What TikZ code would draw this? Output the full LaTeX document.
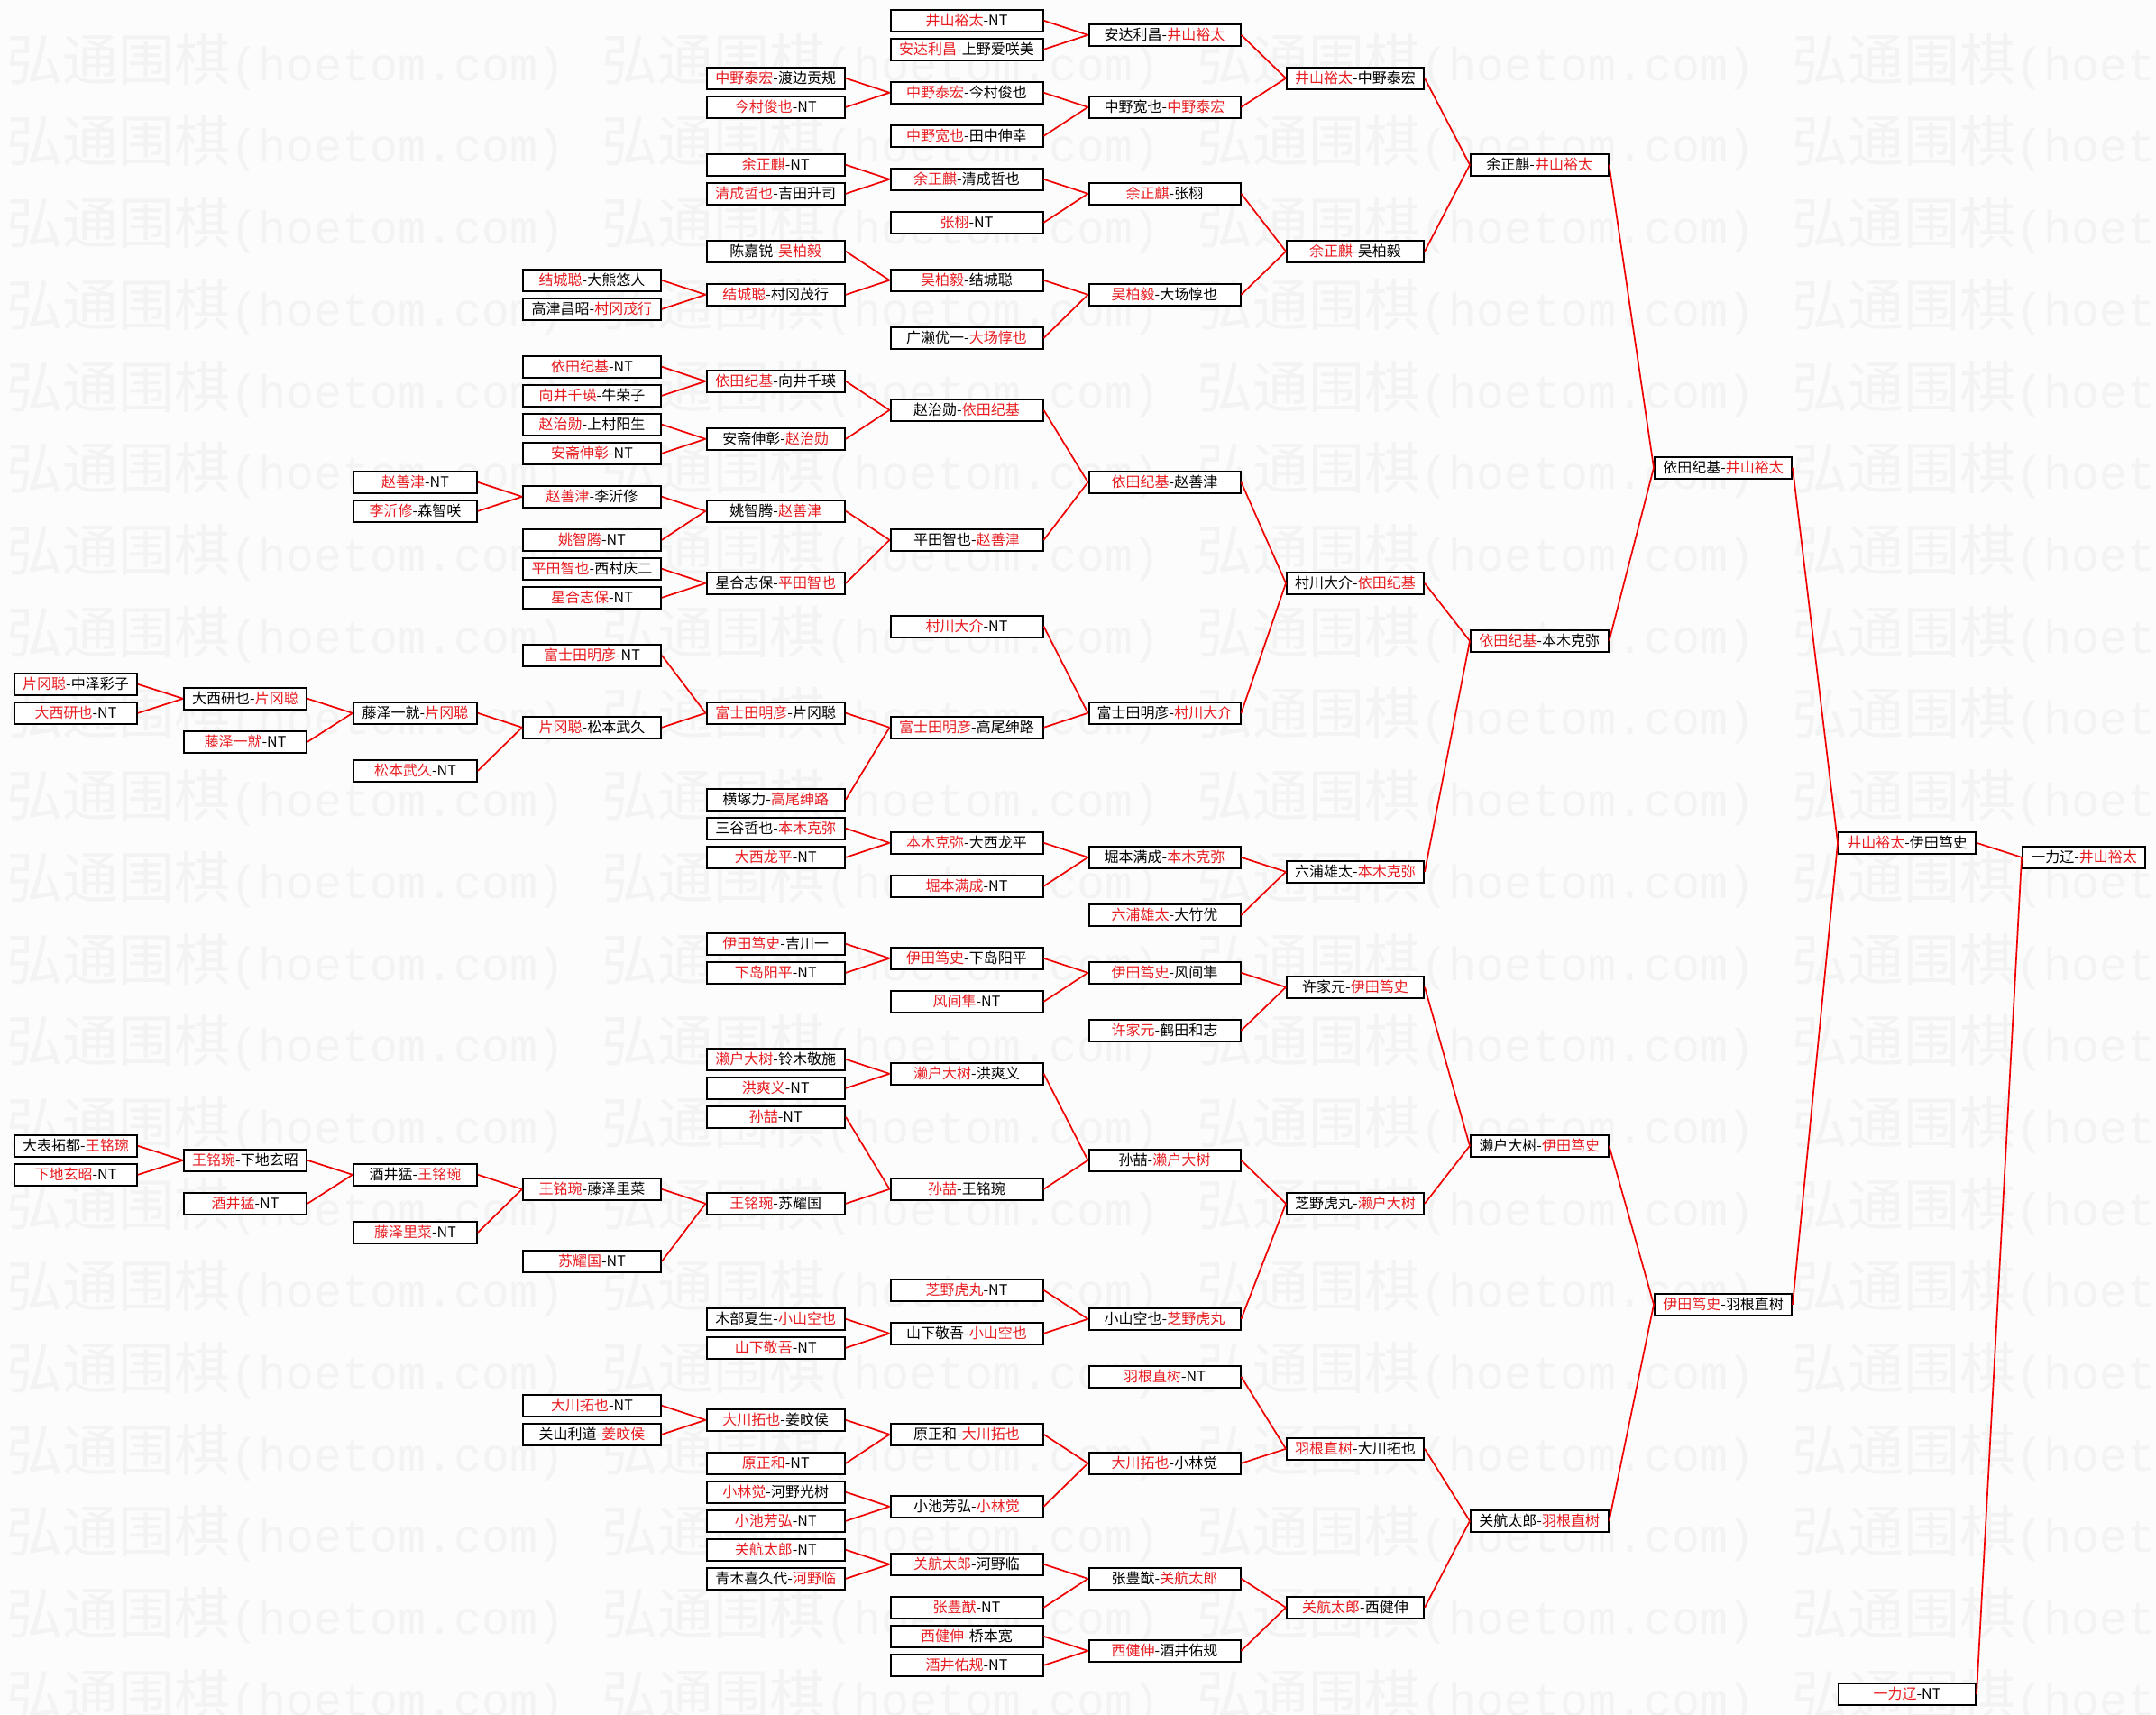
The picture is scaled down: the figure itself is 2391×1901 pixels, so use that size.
\documentclass[tikz,border=0pt]{standalone}
\usepackage{fontspec}
\setmainfont{Noto Sans CJK SC}
\newfontfamily\wmmono{Liberation Mono}
\definecolor{wred}{RGB}{232,28,32}
\definecolor{lred}{RGB}{240,0,0}
\definecolor{wmark}{RGB}{243,243,243}
\definecolor{bgc}{RGB}{252,252,252}
\newcommand\rd[1]{\textcolor{wred}{#1}}
\expandafter\def\csname cx0\endcsname{84}
\expandafter\def\csname cx1\endcsname{272}
\expandafter\def\csname cx2\endcsname{460.5}
\expandafter\def\csname cx3\endcsname{656.5}
\expandafter\def\csname cx4\endcsname{860.25}
\expandafter\def\csname cx5\endcsname{1072}
\expandafter\def\csname cx6\endcsname{1291.5}
\expandafter\def\csname cx7\endcsname{1503}
\expandafter\def\csname cx8\endcsname{1707.25}
\expandafter\def\csname cx9\endcsname{1911}
\expandafter\def\csname cx10\endcsname{2115}
\expandafter\def\csname cx11\endcsname{2311}
\newcommand\bxn[3]{\edef\tmpx{\csname cx#1\endcsname}\node[c#1] (b#1k#2) at (\tmpx,{22.8+16*#2}) {#3};}
\newcommand\cn[3]{\draw[conn] (#1.east) -- (#3.west); \draw[conn] (#2.east) -- (#3.west);}
\begin{document}
\begin{tikzpicture}[x=0.5pt,y=-0.5pt,
  bx/.style={draw=black, line width=1pt, fill=white, inner sep=0pt, minimum height=12pt,
    font=\fontsize{8pt}{9.5pt}\selectfont, text=black},
  c0/.style={bx,minimum width=68pt},
  c1/.style={bx,minimum width=68pt},
  c2/.style={bx,minimum width=68.5pt},
  c3/.style={bx,minimum width=76.5pt},
  c4/.style={bx,minimum width=76.75pt},
  c5/.style={bx,minimum width=84.5pt},
  c6/.style={bx,minimum width=84pt},
  c7/.style={bx,minimum width=76pt},
  c8/.style={bx,minimum width=76.25pt},
  c9/.style={bx,minimum width=76pt},
  c10/.style={bx,minimum width=76pt},
  c11/.style={bx,minimum width=68pt},
  conn/.style={draw=lred, line width=0.85pt},
  wm/.style={anchor=west, inner sep=0pt, text=wmark, font=\fontsize{31pt}{36pt}\selectfont}
]
\useasboundingbox (0,0) rectangle (2391,1901);
\fill[bgc] (0,0) rectangle (2391,1901);
\begin{scope}
\clip (0,0) rectangle (2391,1901);
\foreach \r in {0,...,20} {
  \foreach \i in {0,...,3} {
    \node[wm] (wm\r-\i) at ({7+660*\i},{68.6+90.7*\r}) {弘通围棋{\wmmono\fontsize{25.8pt}{30pt}\selectfont(hoetom.com)}};
  }
}
\end{scope}
% ---- boxes ----
\bxn{5}{0}{\rd{井山裕太}-NT}
\bxn{5}{2}{\rd{安达利昌}-上野爱咲美}
\bxn{6}{1}{安达利昌-\rd{井山裕太}}
\bxn{4}{4}{\rd{中野泰宏}-渡边贡规}
\bxn{4}{6}{\rd{今村俊也}-NT}
\bxn{5}{5}{\rd{中野泰宏}-今村俊也}
\bxn{5}{8}{\rd{中野宽也}-田中伸幸}
\bxn{6}{6}{中野宽也-\rd{中野泰宏}}
\bxn{7}{4}{\rd{井山裕太}-中野泰宏}
\bxn{4}{10}{\rd{余正麒}-NT}
\bxn{4}{12}{\rd{清成哲也}-吉田升司}
\bxn{5}{11}{\rd{余正麒}-清成哲也}
\bxn{5}{14}{\rd{张栩}-NT}
\bxn{6}{12}{\rd{余正麒}-张栩}
\bxn{4}{16}{陈嘉锐-\rd{吴柏毅}}
\bxn{3}{18}{\rd{结城聪}-大熊悠人}
\bxn{3}{20}{高津昌昭-\rd{村冈茂行}}
\bxn{4}{19}{\rd{结城聪}-村冈茂行}
\bxn{5}{18}{\rd{吴柏毅}-结城聪}
\bxn{5}{22}{广濑优一-\rd{大场惇也}}
\bxn{6}{19}{\rd{吴柏毅}-大场惇也}
\bxn{7}{16}{\rd{余正麒}-吴柏毅}
\bxn{8}{10}{余正麒-\rd{井山裕太}}
\bxn{3}{24}{\rd{依田纪基}-NT}
\bxn{3}{26}{\rd{向井千瑛}-牛荣子}
\bxn{3}{28}{\rd{赵治勋}-上村阳生}
\bxn{3}{30}{\rd{安斋伸彰}-NT}
\bxn{4}{25}{\rd{依田纪基}-向井千瑛}
\bxn{4}{29}{安斋伸彰-\rd{赵治勋}}
\bxn{5}{27}{赵治勋-\rd{依田纪基}}
\bxn{2}{32}{\rd{赵善津}-NT}
\bxn{2}{34}{\rd{李沂修}-森智咲}
\bxn{3}{33}{\rd{赵善津}-李沂修}
\bxn{3}{36}{\rd{姚智腾}-NT}
\bxn{4}{34}{姚智腾-\rd{赵善津}}
\bxn{3}{38}{\rd{平田智也}-西村庆二}
\bxn{3}{40}{\rd{星合志保}-NT}
\bxn{4}{39}{星合志保-\rd{平田智也}}
\bxn{5}{36}{平田智也-\rd{赵善津}}
\bxn{6}{32}{\rd{依田纪基}-赵善津}
\bxn{5}{42}{\rd{村川大介}-NT}
\bxn{3}{44}{\rd{富士田明彦}-NT}
\bxn{0}{46}{\rd{片冈聪}-中泽彩子}
\bxn{0}{48}{\rd{大西研也}-NT}
\bxn{1}{47}{大西研也-\rd{片冈聪}}
\bxn{1}{50}{\rd{藤泽一就}-NT}
\bxn{2}{48}{藤泽一就-\rd{片冈聪}}
\bxn{2}{52}{\rd{松本武久}-NT}
\bxn{3}{49}{\rd{片冈聪}-松本武久}
\bxn{4}{48}{\rd{富士田明彦}-片冈聪}
\bxn{4}{54}{横塚力-\rd{高尾绅路}}
\bxn{5}{49}{\rd{富士田明彦}-高尾绅路}
\bxn{6}{48}{富士田明彦-\rd{村川大介}}
\bxn{7}{39}{村川大介-\rd{依田纪基}}
\bxn{4}{56}{三谷哲也-\rd{本木克弥}}
\bxn{4}{58}{\rd{大西龙平}-NT}
\bxn{5}{57}{\rd{本木克弥}-大西龙平}
\bxn{5}{60}{\rd{堀本满成}-NT}
\bxn{6}{58}{堀本满成-\rd{本木克弥}}
\bxn{6}{62}{\rd{六浦雄太}-大竹优}
\bxn{7}{59}{六浦雄太-\rd{本木克弥}}
\bxn{8}{43}{\rd{依田纪基}-本木克弥}
\bxn{9}{31}{依田纪基-\rd{井山裕太}}
\bxn{4}{64}{\rd{伊田笃史}-吉川一}
\bxn{4}{66}{\rd{下岛阳平}-NT}
\bxn{5}{65}{\rd{伊田笃史}-下岛阳平}
\bxn{5}{68}{\rd{风间隼}-NT}
\bxn{6}{66}{\rd{伊田笃史}-风间隼}
\bxn{6}{70}{\rd{许家元}-鹤田和志}
\bxn{7}{67}{许家元-\rd{伊田笃史}}
\bxn{4}{72}{\rd{濑户大树}-铃木敬施}
\bxn{4}{74}{\rd{洪爽义}-NT}
\bxn{5}{73}{\rd{濑户大树}-洪爽义}
\bxn{4}{76}{\rd{孙喆}-NT}
\bxn{0}{78}{大表拓都-\rd{王铭琬}}
\bxn{0}{80}{\rd{下地玄昭}-NT}
\bxn{1}{79}{\rd{王铭琬}-下地玄昭}
\bxn{1}{82}{\rd{酒井猛}-NT}
\bxn{2}{80}{酒井猛-\rd{王铭琬}}
\bxn{2}{84}{\rd{藤泽里菜}-NT}
\bxn{3}{81}{\rd{王铭琬}-藤泽里菜}
\bxn{3}{86}{\rd{苏耀国}-NT}
\bxn{4}{82}{\rd{王铭琬}-苏耀国}
\bxn{5}{81}{\rd{孙喆}-王铭琬}
\bxn{6}{79}{孙喆-\rd{濑户大树}}
\bxn{5}{88}{\rd{芝野虎丸}-NT}
\bxn{4}{90}{木部夏生-\rd{小山空也}}
\bxn{4}{92}{\rd{山下敬吾}-NT}
\bxn{5}{91}{山下敬吾-\rd{小山空也}}
\bxn{6}{90}{小山空也-\rd{芝野虎丸}}
\bxn{7}{82}{芝野虎丸-\rd{濑户大树}}
\bxn{8}{78}{濑户大树-\rd{伊田笃史}}
\bxn{6}{94}{\rd{羽根直树}-NT}
\bxn{3}{96}{\rd{大川拓也}-NT}
\bxn{3}{98}{关山利道-\rd{姜旼侯}}
\bxn{4}{97}{\rd{大川拓也}-姜旼侯}
\bxn{4}{100}{\rd{原正和}-NT}
\bxn{5}{98}{原正和-\rd{大川拓也}}
\bxn{4}{102}{\rd{小林觉}-河野光树}
\bxn{4}{104}{\rd{小池芳弘}-NT}
\bxn{5}{103}{小池芳弘-\rd{小林觉}}
\bxn{6}{100}{\rd{大川拓也}-小林觉}
\bxn{7}{99}{\rd{羽根直树}-大川拓也}
\bxn{4}{106}{\rd{关航太郎}-NT}
\bxn{4}{108}{青木喜久代-\rd{河野临}}
\bxn{5}{107}{\rd{关航太郎}-河野临}
\bxn{5}{110}{\rd{张豊猷}-NT}
\bxn{6}{108}{张豊猷-\rd{关航太郎}}
\bxn{5}{112}{\rd{西健伸}-桥本宽}
\bxn{5}{114}{\rd{酒井佑规}-NT}
\bxn{6}{113}{\rd{西健伸}-酒井佑规}
\bxn{7}{110}{\rd{关航太郎}-西健伸}
\bxn{8}{104}{关航太郎-\rd{羽根直树}}
\bxn{9}{89}{\rd{伊田笃史}-羽根直树}
\bxn{10}{57}{\rd{井山裕太}-伊田笃史}
\bxn{11}{58}{一力辽-\rd{井山裕太}}
\bxn{10}{116}{\rd{一力辽}-NT}
% ---- connectors ----
\cn{b5k0}{b5k2}{b6k1}
\cn{b4k4}{b4k6}{b5k5}
\cn{b5k5}{b5k8}{b6k6}
\cn{b6k1}{b6k6}{b7k4}
\cn{b4k10}{b4k12}{b5k11}
\cn{b5k11}{b5k14}{b6k12}
\cn{b3k18}{b3k20}{b4k19}
\cn{b4k16}{b4k19}{b5k18}
\cn{b5k18}{b5k22}{b6k19}
\cn{b6k12}{b6k19}{b7k16}
\cn{b7k4}{b7k16}{b8k10}
\cn{b3k24}{b3k26}{b4k25}
\cn{b3k28}{b3k30}{b4k29}
\cn{b4k25}{b4k29}{b5k27}
\cn{b2k32}{b2k34}{b3k33}
\cn{b3k33}{b3k36}{b4k34}
\cn{b3k38}{b3k40}{b4k39}
\cn{b4k34}{b4k39}{b5k36}
\cn{b5k27}{b5k36}{b6k32}
\cn{b0k46}{b0k48}{b1k47}
\cn{b1k47}{b1k50}{b2k48}
\cn{b2k48}{b2k52}{b3k49}
\cn{b3k44}{b3k49}{b4k48}
\cn{b4k48}{b4k54}{b5k49}
\cn{b5k42}{b5k49}{b6k48}
\cn{b6k32}{b6k48}{b7k39}
\cn{b4k56}{b4k58}{b5k57}
\cn{b5k57}{b5k60}{b6k58}
\cn{b6k58}{b6k62}{b7k59}
\cn{b7k39}{b7k59}{b8k43}
\cn{b8k10}{b8k43}{b9k31}
\cn{b4k64}{b4k66}{b5k65}
\cn{b5k65}{b5k68}{b6k66}
\cn{b6k66}{b6k70}{b7k67}
\cn{b4k72}{b4k74}{b5k73}
\cn{b0k78}{b0k80}{b1k79}
\cn{b1k79}{b1k82}{b2k80}
\cn{b2k80}{b2k84}{b3k81}
\cn{b3k81}{b3k86}{b4k82}
\cn{b4k76}{b4k82}{b5k81}
\cn{b5k73}{b5k81}{b6k79}
\cn{b4k90}{b4k92}{b5k91}
\cn{b5k88}{b5k91}{b6k90}
\cn{b6k79}{b6k90}{b7k82}
\cn{b7k67}{b7k82}{b8k78}
\cn{b3k96}{b3k98}{b4k97}
\cn{b4k97}{b4k100}{b5k98}
\cn{b4k102}{b4k104}{b5k103}
\cn{b5k98}{b5k103}{b6k100}
\cn{b6k94}{b6k100}{b7k99}
\cn{b4k106}{b4k108}{b5k107}
\cn{b5k107}{b5k110}{b6k108}
\cn{b5k112}{b5k114}{b6k113}
\cn{b6k108}{b6k113}{b7k110}
\cn{b7k99}{b7k110}{b8k104}
\cn{b8k78}{b8k104}{b9k89}
\cn{b9k31}{b9k89}{b10k57}
\cn{b10k57}{b10k116}{b11k58}
\end{tikzpicture}
\end{document}
